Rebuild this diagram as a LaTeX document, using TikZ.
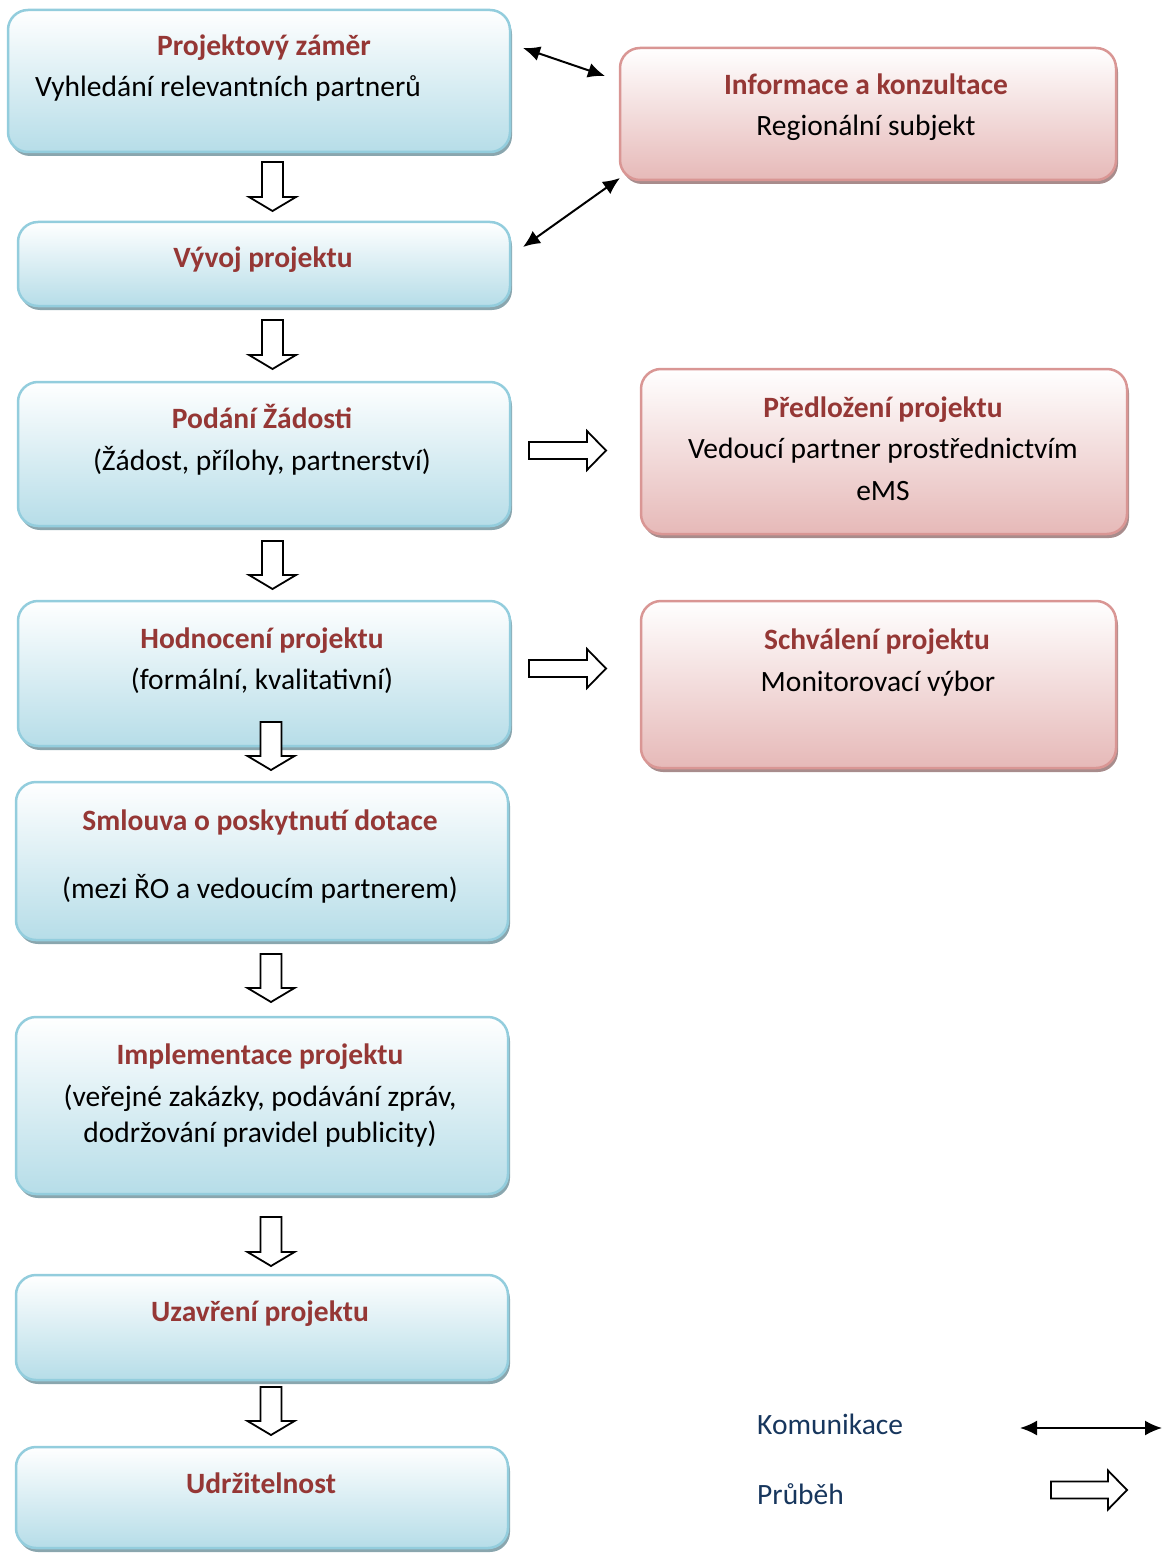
\documentclass[tikz,border=0pt]{standalone}
\usepackage{fontspec}
\setmainfont{Carlito}
\usetikzlibrary{shadows,arrows.meta}
\definecolor{bboxline}{HTML}{93CDDD}
\definecolor{bboxend}{HTML}{B6DDE8}
\definecolor{bshadow}{HTML}{8AA6AE}
\definecolor{pboxline}{HTML}{D99694}
\definecolor{pboxend}{HTML}{E6B9B8}
\definecolor{pshadow}{HTML}{A88C8C}
\definecolor{titlered}{HTML}{953735}
\definecolor{legendblue}{HTML}{17365D}
\newcommand\blkdn[3]{\draw[blkarrow] (#1-10.5,#2) -- (#1+10.5,#2) -- (#1+10.5,#3-14) -- (#1+23.5,#3-14) -- (#1,#3) -- (#1-23.5,#3-14) -- (#1-10.5,#3-14) -- cycle;}
\newcommand\blkrt[3]{\draw[blkarrow] (#1,#3-8.5) -- (#2-19,#3-8.5) -- (#2-19,#3-19.5) -- (#2,#3) -- (#2-19,#3+19.5) -- (#2-19,#3+8.5) -- (#1,#3+8.5) -- cycle;}
\tikzset{
  box/.style={rounded corners=20pt, line width=2.5pt, inner sep=0pt, outer sep=0pt},
  bluebox/.style={box, draw=bboxline, top color=white, bottom color=bboxend,
    general shadow={fill=bshadow, shadow xshift=2pt, shadow yshift=-4pt}},
  pinkbox/.style={box, draw=pboxline, top color=white, bottom color=pboxend,
    general shadow={fill=pshadow, shadow xshift=2pt, shadow yshift=-4pt}},
  ttl/.style={anchor=base, text=titlered, font=\fontsize{29.5}{35}\selectfont\bfseries, inner sep=0pt},
  bdy/.style={anchor=base, text=black, font=\fontsize{29.5}{35}\selectfont, inner sep=0pt},
  lgd/.style={anchor=base west, text=legendblue, font=\fontsize{29.5}{35}\selectfont, inner sep=0pt},
  blkarrow/.style={draw=black, fill=white, line width=1.8pt, line join=miter},
  comm/.style={line width=2pt, {Latex[length=17pt,width=15pt]}-{Latex[length=17pt,width=15pt]}},
}
\begin{document}
\begin{tikzpicture}[x=1pt,y=-1pt]
\useasboundingbox (0,0) rectangle (1162,1554);
% blue boxes
\node[bluebox, minimum width=502, minimum height=142] (b1) at (259,81) {};
\node[bluebox, minimum width=492, minimum height=84] (b2) at (264,264) {};
\node[bluebox, minimum width=492, minimum height=144] (b3) at (264,454) {};
\node[bluebox, minimum width=492, minimum height=145] (b4) at (264,673.5) {};
\node[bluebox, minimum width=492, minimum height=158] (b5) at (262,861) {};
\node[bluebox, minimum width=492, minimum height=177] (b6) at (262,1105.5) {};
\node[bluebox, minimum width=492, minimum height=105] (b7) at (262,1327.5) {};
\node[bluebox, minimum width=492, minimum height=101] (b8) at (262,1497.5) {};
% pink boxes
\node[pinkbox, minimum width=496, minimum height=132] (p1) at (868,114) {};
\node[pinkbox, minimum width=486, minimum height=165] (p2) at (884,451.5) {};
\node[pinkbox, minimum width=475, minimum height=167] (p3) at (878.5,684.5) {};
% texts
\node[ttl] (t1) at (264,56) {Projektový záměr};
\node[bdy] (s1) at (228,97) {Vyhledání relevantních partnerů};
\node[ttl] (t2) at (263,267) {Vývoj projektu};
\node[ttl] (t3) at (262,428) {Podání Žádosti};
\node[bdy] (s3) at (262,470) {(Žádost, přílohy, partnerství)};
\node[ttl] (t4) at (262,648) {Hodnocení projektu};
\node[bdy] (s4) at (262,689) {(formální, kvalitativní)};
\node[ttl] (t5) at (260,830) {Smlouva o poskytnutí dotace};
\node[bdy] (s5) at (260,898) {(mezi ŘO a vedoucím partnerem)};
\node[ttl] (t6) at (260,1064) {Implementace projektu};
\node[bdy] (s6a) at (260,1106) {(veřejné zakázky, podávání zpráv,};
\node[bdy] (s6b) at (260,1142) {dodržování pravidel publicity)};
\node[ttl] (t7) at (260,1321) {Uzavření projektu};
\node[ttl] (t8) at (261,1493) {Udržitelnost};
\node[ttl] (tp1) at (866,95) {Informace a konzultace};
\node[bdy] (sp1) at (866,136) {Regionální subjekt};
\node[ttl] (tp2) at (883,417) {Předložení projektu};
\node[bdy] (sp2a) at (883,458) {Vedoucí partner prostřednictvím};
\node[bdy] (sp2b) at (883,500) {eMS};
\node[ttl] (tp3) at (877,649) {Schválení projektu};
\node[bdy] (sp3) at (878,691) {Monitorovací výbor};
% block arrows (process)
\blkdn{272.5}{162}{211}
\blkdn{272.5}{320}{369}
\blkdn{272.5}{541}{589}
\blkdn{271}{722}{770}
\blkdn{271}{954}{1002}
\blkdn{271}{1217}{1266}
\blkdn{271}{1387}{1435}
\blkrt{529}{606}{450.5}
\blkrt{529}{606}{668.5}
% communication arrows
\coordinate (c1a) at (523,48);
\coordinate (c1b) at (605,76);
\coordinate (c2a) at (523,247);
\coordinate (c2b) at (620,178);
\draw[comm] (c1a) -- (c1b);
\draw[comm] (c2a) -- (c2b);
% legend
\node[lgd] (l1) at (757,1434) {Komunikace};
\node[lgd] (l2) at (757,1504) {Průběh};
\coordinate (la) at (1020,1428);
\coordinate (lb) at (1162,1428);
\draw[comm] (la) -- (lb);
\blkrt{1051}{1127}{1490}
\end{tikzpicture}
\end{document}
